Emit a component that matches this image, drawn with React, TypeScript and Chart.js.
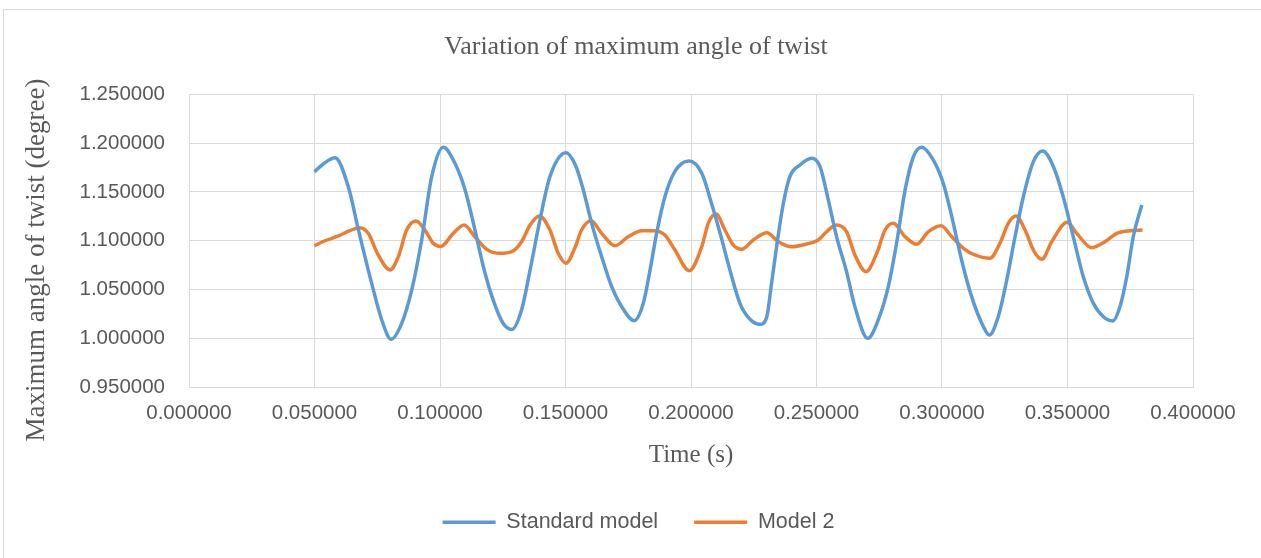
import React, { useEffect, useRef } from "react";
import { Chart, registerables } from "chart.js";
Chart.register(...registerables);

const chartTitle = "Variation of maximum angle of twist";
const xTitle = "Time (s)";
const yTitle = "Maximum angle of twist (degree)";
const seriesNames = ["Standard model", "Model 2"];

const stdTime = [
  0.05, 0.0535, 0.0582, 0.0635, 0.0675, 0.0728, 0.0768, 0.0805, 0.0847, 0.0887, 0.0927, 0.0967,
  0.1013, 0.106, 0.11, 0.1133, 0.1173, 0.1212, 0.1252, 0.1286, 0.1325, 0.1359, 0.1398, 0.1438,
  0.1502, 0.154, 0.1571, 0.1604, 0.1644, 0.1684, 0.1724, 0.1774, 0.181, 0.1837, 0.1863, 0.1896,
  0.1936, 0.1992, 0.2043, 0.2083, 0.2116, 0.2155, 0.2195, 0.2235, 0.2275, 0.2302, 0.2321, 0.2341,
  0.2368, 0.2394, 0.2434, 0.2481, 0.2514, 0.2547, 0.258, 0.262, 0.2653, 0.2704, 0.2746, 0.2786,
  0.2819, 0.2853, 0.2886, 0.2919, 0.2965, 0.3005, 0.3039, 0.3078, 0.3118, 0.3165, 0.3188, 0.3224,
  0.3258, 0.3291, 0.3324, 0.3364, 0.3401, 0.3444, 0.3483, 0.3523, 0.3563, 0.3603, 0.3643, 0.368,
  0.3709, 0.3736, 0.3762, 0.3796,
];
const stdAngle = [
  1.1705, 1.1786, 1.185, 1.155, 1.111, 1.056, 1.0187, 0.999, 1.015, 1.049, 1.1007, 1.1656,
  1.1957, 1.179, 1.152, 1.118, 1.073, 1.039, 1.015, 1.009, 1.029, 1.07, 1.121, 1.1656,
  1.19, 1.177, 1.152, 1.118, 1.0836, 1.0528, 1.0323, 1.018, 1.0358, 1.07, 1.1075, 1.145,
  1.171, 1.1816, 1.169, 1.137, 1.1075, 1.07, 1.0358, 1.0194, 1.0143, 1.022, 1.0563, 1.0938,
  1.1383, 1.1656, 1.1775, 1.1844, 1.1758, 1.1417, 1.104, 1.068, 1.0323, 0.9999, 1.0187, 1.0528,
  1.0973, 1.152, 1.186, 1.1957, 1.1827, 1.1588, 1.1246, 1.0802, 1.0426, 1.0118, 1.0033, 1.022,
  1.0597, 1.104, 1.145, 1.181, 1.1919, 1.1758, 1.145, 1.104, 1.063, 1.0358, 1.022, 1.0177,
  1.0323, 1.063, 1.104, 1.1365,
];

const m2Time = [
  0.05, 0.0542, 0.0595, 0.0641, 0.0679, 0.0714, 0.0754, 0.0801, 0.0834, 0.0867, 0.0904, 0.094,
  0.0973, 0.1003, 0.1053, 0.1096, 0.1139, 0.1186, 0.1239, 0.1286, 0.1325, 0.1359, 0.1396, 0.1438,
  0.1471, 0.1502, 0.1538, 0.1564, 0.1602, 0.1644, 0.1697, 0.175, 0.1804, 0.185, 0.1896, 0.1936,
  0.1993, 0.2043, 0.2069, 0.21, 0.2135, 0.2168, 0.2202, 0.2248, 0.2302, 0.2348, 0.2401, 0.2461,
  0.2507, 0.2547, 0.258, 0.262, 0.2653, 0.2697, 0.274, 0.2773, 0.2806, 0.2853, 0.2899, 0.2946,
  0.2996, 0.3039, 0.3085, 0.3131, 0.3191, 0.3231, 0.3264, 0.3295, 0.3331, 0.3364, 0.3398, 0.3437,
  0.3499, 0.3537, 0.3596, 0.3649, 0.3696, 0.3749, 0.3799,
];
const m2Angle = [
  1.0948, 1.0999, 1.1048, 1.1102, 1.1133, 1.1075, 1.0853, 1.07, 1.0836, 1.1109, 1.1202, 1.1109,
  1.0973, 1.094, 1.1075, 1.116, 1.104, 1.0911, 1.087, 1.0887, 1.0989, 1.116, 1.1253, 1.1109,
  1.087, 1.0768, 1.093, 1.1109, 1.1205, 1.1075, 1.0948, 1.104, 1.1102, 1.1102, 1.1058, 1.0904,
  1.0692, 1.0938, 1.118, 1.1273, 1.1109, 1.0956, 1.0911, 1.1007, 1.1082, 1.0989, 1.0938, 1.0966,
  1.1007, 1.1109, 1.116, 1.109, 1.0853, 1.0682, 1.087, 1.1109, 1.1178, 1.104, 1.0963, 1.1092,
  1.1153, 1.104, 1.0922, 1.0853, 1.0819, 1.0973, 1.1178, 1.1253, 1.1109, 1.0904, 1.0809, 1.0989,
  1.1188, 1.1075, 1.0928, 1.0989, 1.1075, 1.1102, 1.1109,
];

const BLUE = "#5b9bd5";
const ORANGE = "#ed7d31";
const GRID = "#d9d9d9";
const TEXT = "#595959";
const SERIF = "'Liberation Serif', 'Times New Roman', serif";
const SANS = "'Liberation Sans', Arial, sans-serif";

const framePlugin = {
  id: "frame",
  beforeDraw(chart: any) {
    const ctx = chart.ctx;
    ctx.save();
    ctx.fillStyle = "#ffffff";
    ctx.fillRect(0, 0, chart.width, chart.height);
    ctx.strokeStyle = GRID;
    ctx.lineWidth = 1;
    ctx.strokeRect(3.5, 9.5, 1400, 700);
    ctx.restore();
  },
  afterDraw(chart: any) {
    const ctx = chart.ctx;
    ctx.save();
    ctx.fillStyle = TEXT;
    ctx.textAlign = "center";
    ctx.textBaseline = "middle";
    ctx.font = `26px ${SERIF}`;
    ctx.fillText(chartTitle, 636, 47);
    ctx.translate(37, 260);
    ctx.rotate(-Math.PI / 2);
    ctx.font = `27px ${SERIF}`;
    ctx.fillText(yTitle, 0, 0);
    ctx.restore();
  },
};

export default function App() {
  const ref = useRef<HTMLCanvasElement>(null);
  useEffect(() => {
    document.body.style.margin = "0";
    const toPts = (xs: number[], ys: number[]) => xs.map((x, i) => ({ x, y: ys[i] }));
    const chart = new Chart(ref.current as HTMLCanvasElement, {
      type: "line",
      data: {
        datasets: [
          {
            label: seriesNames[0],
            data: toPts(stdTime, stdAngle),
            borderColor: BLUE,
            backgroundColor: BLUE,
            borderWidth: 3.5,
            pointRadius: 0,
            cubicInterpolationMode: "monotone",
          },
          {
            label: seriesNames[1],
            data: toPts(m2Time, m2Angle),
            borderColor: ORANGE,
            backgroundColor: ORANGE,
            borderWidth: 3.5,
            pointRadius: 0,
            cubicInterpolationMode: "monotone",
          },
        ],
      },
      options: {
        animation: false,
        responsive: false,
        layout: { padding: { left: 16, top: 94.3, right: 0, bottom: 15 } },
        plugins: {
          title: { display: false },
          legend: {
            position: "bottom",
            labels: {
              usePointStyle: true,
              pointStyle: "line",
              pointStyleWidth: 53,
              color: TEXT,
              font: { family: SANS, size: 21.5 },
              padding: 36,
            },
          },
          tooltip: { enabled: false },
        },
        scales: {
          x: {
            type: "linear",
            min: 0,
            max: 0.4,
            afterFit: (s: any) => {
              s.height = 88.5;
            },
            ticks: {
              stepSize: 0.05,
              padding: 14,
              color: TEXT,
              font: { family: SANS, size: 20.5 },
              maxRotation: 0,
              autoSkip: false,
              callback: (v: any) => Number(v).toFixed(6),
            },
            grid: { color: GRID, lineWidth: 1, drawTicks: false },
            border: { display: true, color: GRID },
            title: {
              display: true,
              text: xTitle,
              color: TEXT,
              font: { family: SERIF, size: 25 },
              padding: { top: 0, bottom: 5.5 },
            },
          },
          y: {
            type: "linear",
            min: 0.95,
            max: 1.25,
            afterFit: (s: any) => {
              s.width = 173;
            },
            ticks: {
              stepSize: 0.05,
              padding: 24,
              color: TEXT,
              font: { family: SANS, size: 20.5 },
              callback: (v: any) => Number(v).toFixed(6),
            },
            grid: { color: GRID, lineWidth: 1, drawTicks: false },
            border: { display: true, color: GRID },
            title: { display: false },
          },
          yRight: {
            type: "linear",
            position: "right",
            display: true,
            afterFit: (s: any) => {
              s.width = 68;
            },
            ticks: { display: false },
            grid: { display: false, drawTicks: false },
            border: { display: false },
          },
        },
      },
      plugins: [framePlugin],
    } as any);
    return () => chart.destroy();
  }, []);
  return (
    <div style={{ width: 1261, height: 558 }}>
      <canvas ref={ref} width={1261} height={558} style={{ display: "block" }} />
    </div>
  );
}
